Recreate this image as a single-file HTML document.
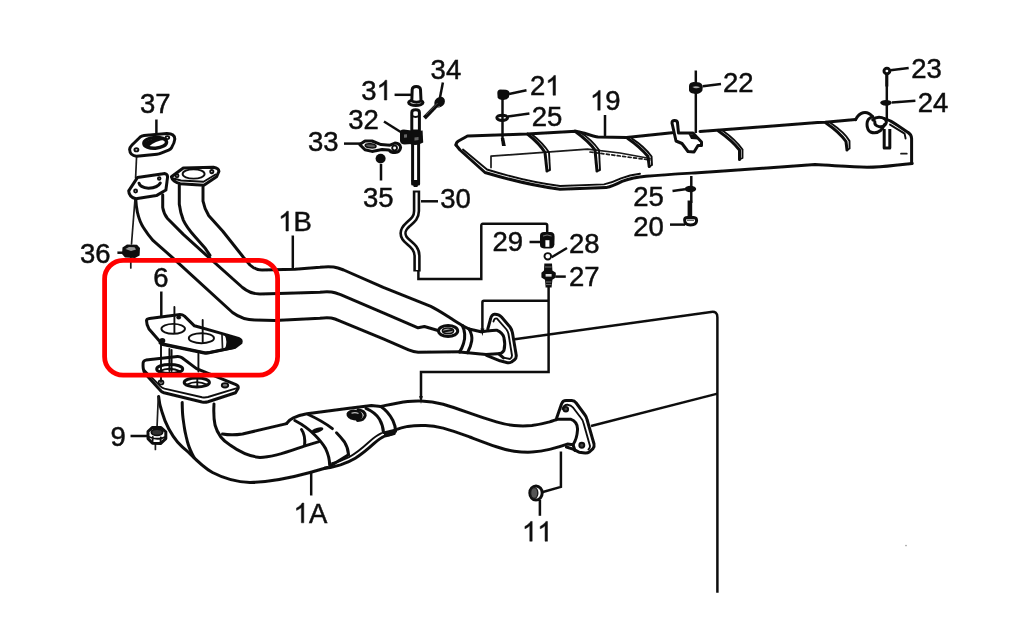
<!DOCTYPE html>
<html><head><meta charset="utf-8">
<style>
html,body{margin:0;padding:0;background:#fff;overflow:hidden}
svg{display:block}
text{font-family:"Liberation Sans",sans-serif;font-size:27.5px;fill:#111;stroke:#111;stroke-width:0.5px}
.p{fill:none;stroke:#111;stroke-width:3;stroke-linecap:round;stroke-linejoin:round}
.m{fill:none;stroke:#111;stroke-width:1.9;stroke-linecap:round;stroke-linejoin:round}
.t{fill:none;stroke:#1a1a1a;stroke-width:1.7;stroke-linecap:round;stroke-linejoin:round}
.l{fill:none;stroke:#111;stroke-width:2.5;stroke-linecap:butt}
.f{fill:#fff;stroke:#111;stroke-width:3;stroke-linejoin:round}
.d{fill:#111;stroke:none}
</style></head>
<body>
<svg width="1015" height="632" viewBox="0 0 1015 632">
<rect width="1015" height="632" fill="#fff"/>
<defs>
<filter id="bl" x="0" y="0" width="1015" height="632" filterUnits="userSpaceOnUse"><feGaussianBlur stdDeviation="0.55"/></filter>
<path id="one" stroke="#111" stroke-width="38" d="M759,0 L579,0 L579,-1147 Q514,-1085 408.5,-1023 Q303,-961 219,-930 L219,-1104 Q370,-1175 483,-1276 Q596,-1377 643,-1472 L759,-1472 Z"/>
</defs>
<g filter="url(#bl)">
<!-- ===== 1B PIPES ===== -->
<g id="pipe1b">
<path class="p" d="M135.8,199.6 C136,204 136.5,208 137.4,212.2 C139,219 141,224 143.7,228 C146.5,232.5 149.5,236.5 153.2,240.7 L172.2,257.3 L232.5,312.5 C240,318 247,320 255,320 L275,320.5 L320,318.3 C326,317.3 331,317.5 335,319 L339,320.7 L383.3,338.9 L408.6,349.9 C412,351.3 414.5,352.1 418.1,352.3 L460.8,351.8"/>
<path class="p" d="M162.7,194.8 L162.7,207.5 C163.5,212 165,215.5 167.5,218.5 L183.3,234.4 L200.7,250.2 L242.5,287.5 C248,292 253,294 260,294 L287.5,293.3 L320,292.2 C326,291.5 331,291.5 335,292.8 L340.6,294.6 L383.3,312.8 L418.1,327.8 L424.4,326.5 L437.1,330.2"/>
<path class="p" d="M179.3,185.3 L179.3,204.3 C180,210 181.3,215 183.3,220.1 C186,226 190,231 194.4,236 L205.4,248.6 L210,255.4"/>
<path class="p" d="M203,186.9 L203,201.1 C204,206.5 205.8,211 208.6,215.4 L222.8,231.2 L243.4,257.3 L250,265 C253,268 256.5,270 262,270 L295,269.3 L320,267.3 C327,266.5 333,266.5 338,268 L343.7,270 L383.3,287.4 L430.8,306.4 C440,311 447,316 454.5,320.7 L462.3,325.6"/>
</g>
<!-- ===== flanges top-left ===== -->
<g id="flangesTL">
<!-- thin line 37 -> flange -> 36 -->
<path class="t" d="M136.6,156 L135.6,178 M135,199 L131.5,244 M130.8,257 L130.8,268"/>
<!-- gasket 37 -->
<path class="f" d="M129.6,149.5 Q130,147 132,145 L140,137.2 Q141.6,135.8 144,135.5 L167,133.6 Q174.6,133.6 174.8,139 Q174.6,142.5 171.6,147.6 Q170.6,149.2 168.6,150.2 L160.4,153.4 Q159,154 157,154.2 L136.5,156.2 Q130,155.6 129.6,149.5 Z"/>
<ellipse cx="155.2" cy="142.8" rx="11.4" ry="5.4" fill="#fff" stroke="#111" stroke-width="3.4" transform="rotate(-4 155.2 142.8)"/>
<path d="M144.2,142.6 Q153,136 165.6,139.8 Q155,140.6 148.4,147 Q145,146 144.2,142.6 Z" class="d"/>
<ellipse cx="136.4" cy="149.8" rx="2" ry="1.6" class="m"/>
<ellipse cx="167.4" cy="137.6" rx="1.8" ry="1.5" class="m"/>
<!-- left flange -->
<path class="f" d="M128.7,190.9 L137.4,177.6 L165,173.6 Q168,174.5 167.5,177.6 L165.9,190 L156.4,195.6 L135.8,198.8 Q129,197 128.7,190.9 Z"/>
<path class="p" d="M139,183.2 Q140,187.5 148.5,188.3 Q158,187.5 160.3,183"/>
<circle cx="135.6" cy="191" r="1.5" class="m"/>
<circle cx="159.2" cy="178.4" r="1.3" class="m"/>
<!-- right flange -->
<path class="f" d="M171.4,176.8 L183.3,168 L213.4,167.2 Q218.8,168.2 218.9,171.3 L216.5,176.8 L203.9,185.3 L180.1,183.7 Q172.5,181.5 171.4,176.8 Z"/>
<path class="m" d="M173.5,178.5 L181,180.5 L203.5,181.8 L215.5,174.5"/>
<ellipse cx="193.6" cy="174" rx="11" ry="4.6" class="m" stroke-width="2.2"/>
<circle cx="177" cy="175.8" r="1.5" class="m"/>
<circle cx="211.8" cy="171.6" r="1.6" class="m"/>
<!-- nut 36 -->
<path class="d" d="M122.5,247.5 L127,244.5 L137,244.8 L140,248 L139.6,255.5 L135,258 L125,257.6 L122,254 Z"/>
<path d="M125.5,249 L129,247 L134.5,247.2 L136,249.5 L131,251 Z" fill="#999"/>
</g>
<path class="l" d="M156.4,119.5 V134"/>
<path class="l" d="M117.4,252.7 H123"/>
<path class="l" d="M161.3,291.5 V317.4"/>
<path class="l" d="M292.8,235.5 V268"/>
<!-- ===== lower flange + pipe 1A ===== -->
<g id="pipe1a">
<!-- outer-left line and bottom curve -->
<path class="p" d="M158.6,396.4 C159.2,403 160.5,408 162,412 C164,419 166.5,424.5 168.7,428.8 C171.5,434 174.5,438.5 177.5,442 C181,446 185,449.5 188.6,452.4 C197.5,461.5 204,468 212.5,472.5 C224,478.5 236,482 250,482.5 C272,482 292,477.5 310,472.5 L327.5,467.5"/>
<!-- second line (front pipe left edge) -->
<path class="p" d="M182.2,402.5 C182.3,411 182.6,415 183,418 C184,427 185.5,435 187.5,442 C188.8,447 191,452 194,457.5"/>
<!-- inner curve (front pipe right edge) -->
<path class="p" d="M214,404 C213.5,412 213.8,419 215,425 C217.5,434 222.5,440.5 230,445 C239,451.5 248,456.5 260,457.5 C275,457.3 290,451 304.2,446.1 L319,441.6"/>
<!-- upper pipe top line -->
<path class="p" d="M222.5,434 C229,435.2 236,435 242.5,434 L286.7,423.6"/>
<!-- lower flange -->
<path class="f" d="M143.1,363 Q143.3,360.6 146,360.1 L177.5,356.4 Q180,356.3 182,357.8 L196.5,368.6 L236,384.6 Q238.8,385.8 238.2,388.2 L235.5,392.8 L208,401.8 Q205,402.6 202,402 L164,392.8 Q161.5,392 160,390 L145,373.5 Q142.6,369.5 143.1,363 Z"/>
<path class="m" stroke-width="2.2" d="M144.2,370 L160.5,386.3 Q162,387.8 164.5,388.6 L202,397.2 Q205,397.8 208,397 L237,388.2"/>
<ellipse cx="169.7" cy="369" rx="13" ry="4.6" class="p" stroke-width="2.6"/>
<path class="m" d="M159.5,371.2 Q169.7,366.2 180.5,371.4"/>
<ellipse cx="196.8" cy="382.4" rx="12.6" ry="4.5" class="p" stroke-width="2.6"/>
<path class="m" d="M186.8,384.6 Q196.8,379.6 207.4,384.8"/>
<ellipse cx="225" cy="385.3" rx="3.2" ry="2.2" class="m" style="fill:#777"/>
<ellipse cx="161" cy="382.4" rx="2.4" ry="2" class="m"/>
<!-- studs through gasket -->
<path class="m" d="M161,344 V382 M169.4,349 V371 M171.6,350 V371 M198.4,353.5 V371.5 M197.3,379 V386"/>
<!-- line to nut 9 -->
<path class="t" d="M158.3,397 L157,428 M155.4,444 V449.4"/>
<!-- nut 9 -->
<path class="f" stroke-width="2.2" d="M148,431.5 L152.5,427.4 L161,427.6 L165.8,431.8 L165.8,438.6 L160.5,443.6 L152.5,443.2 L148,438.6 Z"/>
<ellipse cx="157" cy="432.2" rx="5.6" ry="3.2" fill="#333" stroke="#111" stroke-width="1.8"/>
<path class="m" d="M152.4,443 L152.8,437 M160.5,443.4 L160.8,437.4 M148.2,436.5 Q157,441 165.6,436.8"/>
</g>
<!-- gasket 6 -->
<g id="gasket6">
<path class="f" stroke-width="2.8" d="M146.5,320.5 Q146.8,318.8 149.5,318.4 L180,314.6 Q182.5,314.6 184.5,316.2 L194.4,325.8 L220.5,333.1 L238.5,338.5 Q242,340 241,342.8 L235,347.2 L208.5,352.6 Q206,353 203.5,352.4 L163,344 Q160.5,343 159,340.5 L149,329 Q146.5,325 146.5,320.5 Z"/>
<path class="p" stroke-width="3.8" d="M160,343 L163,344.6 L204,353 Q206.5,353.4 209,352.8 L234,347.6"/>
<path class="d" d="M224,333.8 L238.5,338.3 Q242.2,340 241,343 L235,347.6 L224.5,349.5 Q228.5,342 224,333.8 Z"/>
<path class="t" d="M222,335 L222.5,348"/>
<ellipse cx="173.2" cy="328.8" rx="11.8" ry="4.9" class="m" stroke-width="2.2"/>
<ellipse cx="201.4" cy="338.2" rx="12.6" ry="5" class="m" stroke-width="2.2"/>
<ellipse cx="178.7" cy="317.6" rx="2.4" ry="2" class="d"/>
<ellipse cx="162.3" cy="340.8" rx="3" ry="2.8" class="d"/>
<path class="m" d="M174.4,307 V333 M202.7,320 V342"/>
</g>

<!-- ===== catalytic converter ===== -->
<g id="cat">
<!-- top edge -->
<path class="p" d="M286.7,423.4 C288.5,420.5 290.5,419 293.4,417.8 C297.5,416 302,414.8 306.9,413.8 L347.2,408.4 L371.4,405.6 L380.8,406.4"/>
<!-- right band -->
<path class="p" stroke-width="2.4" d="M366,408.4 C372,411 376.5,414.5 379.5,419.2 C382,423.5 383.3,428 383.5,432.6"/>
<path class="p" d="M380.8,406.6 C386,410 390,415 392.9,420.5 C394.6,424 395.6,427.5 395.6,431.3"/>
<path class="d" d="M383.5,431.5 L395.8,428.5 Q397,432 394.5,434.5 Q390,436.8 384.5,437 Z"/>
<!-- bottom edge -->
<path class="p" stroke-width="3.6" d="M324.4,468.3 C330,467.8 335.5,466.5 340.5,464.9 C346,463 351,460.8 355.3,458.2 C362,454 368.5,448.5 374.1,443.4 C378,440 381.5,437.5 384.8,436 L394.2,433.6"/>
<path class="m" stroke-width="1.6" d="M332,463.2 C338,462 344,459.8 349,457.2 C356.5,453 363.5,447 369,442 C373.5,438 377.5,435 381.5,433.2"/>
<!-- left band -->
<path class="p" stroke-width="3.4" d="M294.8,420.5 C302.5,424.5 309.5,429.5 315,435.3 C319.5,439.8 323,444 325.7,448.8 C328.3,454 329.6,459.5 329.7,465.5"/>
<path class="p" stroke-width="2.2" d="M308.2,414.5 C316,418 325,423 332.4,428.6"/>
<path class="p" stroke-width="2.2" d="M336.5,432.8 C339.5,435.8 342,438.8 344.5,442 C347,446 348.2,450 348.5,454.5"/>
<path class="p" stroke-width="2.4" d="M348.5,454.8 L331.5,465.2"/>
<ellipse cx="317.4" cy="430.2" rx="6.2" ry="2.4" transform="rotate(-17 317.4 430.2)" class="d"/>
<!-- upper pipe rounded end inside -->
<path class="p" stroke-width="2.4" d="M301.5,429.5 C304,433 305.2,438.5 304.6,445.5"/>
<!-- bolt on cat -->
<ellipse cx="354.6" cy="415" rx="8.2" ry="5.4" transform="rotate(8 354.6 415)" class="d"/>
<path class="p" stroke-width="2.2" d="M358,409.8 Q365,410.8 365.2,415.5 Q364,420.5 357.5,420.6"/>
<path d="M351.5,413.3 Q355,411.8 358.5,413.4" stroke="#bbb" stroke-width="1.1" fill="none"/>
</g>
<path class="l" d="M130.5,436 H147.6"/>
<path class="l" d="M311.2,473 V495.5"/>
<!-- ===== pipe 1A right part + flange 2 ===== -->
<g id="pipe1aR">
<path class="p" d="M380.8,406.4 C390,404.5 399,402.5 407.7,401.5 C412,401 416.5,400.9 421,401 C428.5,401.2 436,402.3 443.2,404.2 C452,406.8 461,410 469.8,413.1 C478.5,416.2 487.5,419.2 496.4,421.9 C502,423.6 508,425 514.1,425.5 C520,426 526,426 531.9,425.5 C538,424.8 544,423.5 549.6,421.9 C553,420.8 555.5,419.8 557.5,419.2 L570.5,419.2 C575.5,421 577.8,425 577.5,430 C577.2,436 575.5,441 573,444.8"/>
<path class="p" d="M395.3,429.9 C399.5,428.3 403.5,427.2 407.7,426.4 C413.5,425.5 419.5,425.3 425.5,425.5 C431.5,425.8 437.5,426.8 443.2,428.1 C452,430.5 461,433.8 469.8,437 C478.5,440.3 487.5,443.8 496.4,446.7 C502,448.6 508,450.3 514.1,451.2 C520,452 526,452.4 531.9,452.1 C538,451.8 544,450.8 549.6,449.4 C556,447.8 562,446 567.3,444.1 L573,444.8"/>
<!-- flange 2 -->
<path class="p" d="M556.5,418.4 L561.5,404 Q562.8,400.6 566,400.6 L571.8,400.6 Q574.4,400.8 576.2,403 L585,415 Q586.5,417 587,419.5 L594,444 Q594.6,446.6 593,448.6 L589.4,452 Q587.4,453.2 585.2,453 L579,452.2 L573,449.2 L566.4,447"/>
<path class="m" d="M562.4,409 Q564,404.6 567.5,404.8 Q571,405 573,407.5 L581,418 Q583,420.5 583.5,423 L590,446 Q590,448 588.5,449.5"/>
<path class="p" d="M573,444.8 L575,450.4"/>
<circle cx="565.8" cy="409.2" r="2.3" class="m" style="fill:#444"/>
<circle cx="581.8" cy="445.3" r="2.5" class="m" style="fill:#444"/>
<!-- leader to nut 11 -->
<path class="l" d="M560.9,451.4 V486.9 L542,492.2"/>
<!-- nut 11 -->
<ellipse cx="536" cy="493" rx="6.2" ry="7" class="f" stroke-width="2.2"/>
<ellipse cx="534.2" cy="493" rx="3.6" ry="5.4" fill="#555" stroke="#1a1a1a" stroke-width="1.4"/>
</g>
<path class="l" d="M539.9,500 V515.8"/>
<!-- ===== 1B end joint + flange 1 ===== -->
<g id="end1b">
<!-- joint bands -->
<path class="p" d="M462.3,325.6 C465,331 465.3,338 463.5,343.5 C462.5,347 461,349.8 459.6,351.8"/>
<path class="p" d="M469,329 C471.5,333 472.3,337 471.7,341 C471,345.5 469.5,349 467.6,352.5"/>
<path class="p" d="M462.3,325.6 L469,329"/>
<path class="p" d="M459.6,352.1 L467.6,352.8"/>
<!-- pipe stub into flange -->
<path class="p" d="M469,329 L481,331.8 C486,331.5 492,330 497.2,330.3 C501,332 503.2,334.5 503.9,337.5 C505,342 505,346.5 503.9,350.5 C502.5,353 500,354 497.2,353.8 L486,354.5 L467.6,352.8"/>
<!-- flange 1 -->
<path class="p" d="M487.8,329 L490.5,319 Q491.5,314.5 494.5,314.2 Q498.5,314 501.5,317 L510,327 Q511.8,329.5 512.4,332.5 L516.2,355 Q516.6,358 514.5,359.8 L511.5,362 Q509.5,363 507.5,362.7 L500,360.8 L486.5,355.4"/>
<path class="m" d="M493.5,321.5 Q494.6,317.6 497,318.6 L506.5,329.5 Q508,331.5 508.5,334 L512,355.5 Q512,358 510,359 L503.5,357.6"/>
<path class="p" d="M499,354 L503.5,357.8"/>
<!-- bolt on pipe -->
<ellipse cx="448.1" cy="331" rx="9.6" ry="5.4" class="f" stroke-width="2.4"/>
<ellipse cx="448" cy="330.8" rx="5.6" ry="2.8" fill="#aaa" stroke="#111" stroke-width="1.6"/>
<path class="m" d="M444,331.5 L452,330"/>
<path class="m" d="M438.6,330.4 L437.1,330.2"/>
<!-- small arrow dot -->
<path class="d" d="M480.4,328.5 L484.4,328.5 L482.4,336 Z"/>
</g>

<!-- ===== long lines ===== -->
<g id="longlines">
<path class="l" d="M514.7,339.3 L711,311.9 Q717.4,311 717.4,317.2 V592.8" stroke-width="2.8"/>
<circle cx="906" cy="545.6" r="0.8" fill="#999"/>
<path class="l" d="M591,426 L717.5,393.6" stroke-width="2.6"/>
<!-- from 27 down -->
<path class="l" d="M548.6,286 V372 H421 V398" stroke-width="2.2"/>
<path class="d" d="M419.2,396 L422.8,396 L421,404 Z"/>
<path class="l" d="M548.6,300.8 H484 Q482.4,300.8 482.4,302.4 V330" stroke-width="2.2"/>
<!-- tube 30 bracket to 29 -->
<path class="l" d="M418.4,271 V279 H481.3 V225.6 Q481.2,223.8 483,223.8 H545.4 Q547.2,223.8 547.2,225.6 V233" stroke-width="2.4"/>
</g>
<!-- ===== tube assembly 30-35 ===== -->
<g id="tube">
<!-- cap 31 -->
<ellipse cx="415.8" cy="102.6" rx="7.2" ry="2.9" class="f" stroke-width="2.4"/>
<path class="f" stroke-width="2.4" d="M411.8,101 L412.2,89.5 Q412.4,86.4 416.2,86.4 Q420.3,86.4 420.5,89.5 L421,101 Q416.5,103.3 411.8,101 Z"/>
<!-- upper tube -->
<path class="f" stroke-width="3" d="M411.8,112.5 Q411.8,109.8 415.6,109.8 Q419.4,109.8 419.4,112.5 L419.4,131 L411.8,131 Z"/>
<path class="m" stroke-width="2.2" d="M411.8,115.5 Q415.6,118.6 419.4,115.5"/>
<!-- lower tube -->
<path class="f" stroke-width="2.8" d="M412.6,143 L412.6,184 L418.6,184 L418.6,143 Z"/>
<path class="d" d="M411.2,180 L420,180 L417.4,187 L413.8,187 Z"/>
<!-- clamp 32 -->
<path class="d" d="M400,132.5 Q400,129.5 403.5,129.5 L412,130.5 L412,144 L404,144.5 Q400,144 400,140.5 Z"/>
<path class="d" d="M410.5,132 L422.6,130.5 L423.2,142.5 Q417.5,146.2 410.5,144.2 Z"/>
<path d="M404,134.5 L407,134.3 L407,137.5 L404,137.8 Z M414.5,137.5 L418.5,137 L418.5,140 L414.5,140.4 Z" fill="#666"/>
<!-- bracket 33 -->
<path class="f" stroke-width="2.2" d="M359.8,144.6 L365,141 L372,141 L381,144.6 L390,145.2 L395,143 Q400,143.2 400.6,147.5 Q400,152 395,152.6 Q391,152.6 389,150 L382,149.6 L372,151.4 L365,149.8 Z"/>
<ellipse cx="370.6" cy="145.8" rx="5.4" ry="2" transform="rotate(6 370.6 145.8)" fill="#555" stroke="#111" stroke-width="1.6"/>
<ellipse cx="394.6" cy="148" rx="2.4" ry="2.4" class="m"/>
<!-- bolt 35 -->
<ellipse cx="380.6" cy="158.6" rx="5" ry="4.9" class="d"/>
<!-- bolt 34 -->
<ellipse cx="439.6" cy="102.2" rx="5.8" ry="4.8" transform="rotate(-45 439.6 102.2)" class="d"/>
<path d="M436.4,105.6 L424.4,118" stroke="#111" stroke-width="4" stroke-linecap="butt" fill="none"/>
<path d="M437,103.6 L425.6,115.2 M439.4,106.2 L428,118.2" stroke="#fff" stroke-width="0.7" stroke-dasharray="1.1 1.7" fill="none"/>
<!-- tube 30 -->
<path d="M416.5,190.6 L416.5,211 C416.5,218 412,221 408,224.5 C403,229 401.5,233 404.5,238 C407.5,243 417,246 417,256 L417,271.5" fill="none" stroke="#111" stroke-width="7.4" stroke-linecap="butt" stroke-linejoin="round"/>
<path d="M416.5,192.6 L416.5,211 C416.5,218 412,221 408,224.5 C403,229 401.5,233 404.5,238 C407.5,243 417,246 417,256 L417,270" fill="none" stroke="#fff" stroke-width="2.2" stroke-linecap="butt" stroke-linejoin="round"/>
</g>
<path class="l" d="M394.6,94.8 H411.6"/>
<path class="l" d="M384,121.5 L401.5,132.5"/>
<path class="l" d="M344,143.6 H361"/>
<path class="l" d="M442.9,82.6 L439.8,98.5"/>
<path class="l" d="M381,164 V180.5"/>
<path class="l" d="M421,201.3 H438"/>
<!-- ===== 27, 28, 29 ===== -->
<g id="sensor">
<!-- 29 cap -->
<path class="d" d="M540,235.5 Q540,232.2 544,232 L550.5,232 Q554.6,232.2 554.6,236.5 L554.4,244.5 Q554,248.4 550,248.4 L544,248.4 Q540,248.2 540,245 Z"/>
<path d="M545.4,240.2 L549.4,240.2 L549.4,246.8 L545.4,246.8 Z" fill="#fff"/>
<path d="M543,236 Q547,234 551.5,236" stroke="#777" stroke-width="1" fill="none"/>
<!-- 28 ring -->
<ellipse cx="547.8" cy="256.3" rx="3.3" ry="3.2" class="m" stroke-width="2.4"/>
<!-- 27 sensor -->
<path class="d" d="M544.3,263.4 L552,263.4 L552.4,270.6 L555.8,272.8 L555.8,277.4 L552.4,279.8 L551.6,287.6 L545.6,287.6 L545,279.8 L541.4,277.4 L541.4,272.8 L544,270.6 Z"/>
<path d="M545.6,274 L551.6,274 L551.6,276.6 L545.6,276.6 Z" fill="#ddd"/>
<path d="M545,267 H551.6 M546,282 H551.4 M546,284.6 H551.4" stroke="#888" stroke-width="0.8"/>
</g>
<path class="l" d="M529.5,242 H540"/>
<path class="l" d="M551.6,257.2 L567,248"/>
<path class="l" d="M555.6,276.6 H565.8"/>

<!-- ===== heat shield 19 ===== -->
<g id="shield">
<!-- outline -->
<path class="p" d="M456,145 Q456,142.5 458.5,141 L467.5,136 L527,134 L575.8,131.2 C584,132.4 592,136.2 598,137 L626.5,137.6 L672,132.8"/>
<path class="p" stroke-width="2.6" d="M700,131.5 L817.5,122.5 L825.2,122.2 L855.6,119.6"/>
<path class="p" stroke-width="3" d="M456,145 L460,150 L485,172.5 C510,180 535,186 560,189.2 L606,187.6 C612,186.4 617,184 622,181.4 C630,178.4 638,176.8 646,176.2 C662,174.8 680,173.8 694,173 L720,171.3 L815,164.6 C835,165.6 852,166.8 867,167.2 C877,167.2 887,166.2 895.4,165.2 L912.2,163.4"/>
<path class="m" d="M463,149.5 L487,169.5 C511,177 536,183 560,186 L604,184.4 C611,183 616,180.8 621,178.4 C627,176 633,174.6 640,173.8"/>
<!-- inner rectangle -->
<path class="t" d="M491,167.5 V156.2 L587.5,149.2 L620,153 L650,158.5"/>
<path class="t" stroke-dasharray="3 2.5" d="M590,152 L650,160"/>
<!-- ribs -->
<path class="p" stroke-width="2.4" d="M527.5,134 C535,140 541,146 545,152.5 L547,171"/>
<path class="m" d="M531.5,134 C539,140 545,146 549,152.5 L550,170 L547,171"/>
<path class="p" stroke-width="2.4" d="M575,131.2 C583,137 590,143 595,150 L597,171"/>
<path class="m" d="M579.5,131.8 C587.5,137 594,143 599,150 L600,170 L597,171"/>
<path class="p" stroke-width="2.4" d="M627.8,138.6 C635,143.5 642,149.5 648,156.5 L649.2,166.6"/>
<path class="m" d="M632,138.6 C639.5,143.5 646.5,149.5 651.6,156.5 L652,165 L649.2,166.6"/>
<path class="p" stroke-width="2.2" d="M718.5,131 C727,137 734.5,143.5 739.5,150 L739.5,159.5"/>
<path class="m" d="M722.5,130.5 C731,136.5 738,143 742.5,149.5 L742.5,158 L739.5,159.5"/>
<path class="p" stroke-width="2.2" d="M826,123 C834,128.5 841.5,135 846,141.5 L847,150"/>
<path class="m" d="M830,122.5 C838,128 846,134.5 849.5,141 L849.6,148.5 L847,150"/>
<!-- bracket at 22 -->
<path class="f" stroke-width="2.2" d="M672,123 Q672,120.5 674.5,120.5 Q677.5,120.5 677.5,123 L678.5,133 L693,133 L701.5,142 L701.5,145.5 L698,145.5 L694,152 L688,151.5 L682,143.5 L676,141 Z"/>
<path class="d" d="M688.5,134 L695.5,134.5 L697.5,139.5 L691,139 Z"/>
<!-- clip at right end -->
<path class="p" stroke-width="3.8" d="M855.6,119.6 C857.5,116 860,113.6 863,112.8 C866.5,112 870,113.5 872.7,116.7"/>
<path class="p" stroke-width="2.6" d="M872.7,116.7 C869,118 867,121 867,124 C867,127.5 868,130.5 870.5,132 C874,133.5 878,132.5 880.5,130.5 C882.5,128.8 883.5,127 884.5,124.5"/>
<path class="p" stroke-width="2.4" d="M872.7,119.8 C875,117.6 879,116.8 882,117.6 C885.5,118.6 887,121 886,123.5 C885,126 882,127.2 879,126.6 C876,126 874.5,124 874.8,121.5"/>
<path class="p" stroke-width="2.6" d="M884.5,118.6 C889,119.8 893,122 897,125 L908,132.4 Q911.4,134.5 911.6,138.5 L911.6,163.4"/>
<path class="m" d="M890,124.6 L904.6,133.6 L905.6,138.5"/>
<!-- stud -->
<path class="f" stroke-width="1.8" d="M884.2,129 V148 H889.8 V129"/>
<path class="t" d="M901,153.7 H906.8"/>
</g>
<!-- bolts on shield -->
<g id="bolts">
<!-- 21 -->
<path class="l" d="M502.5,99 V141" stroke-width="2.8"/>
<path class="d" d="M497.3,93 Q497.3,90 500.5,89.6 L506,89.8 Q509.6,90.4 509.6,93.6 L508.8,97.6 Q507,100.2 503,100 Q498.5,99.8 497.6,97.4 Z"/>
<path class="d" d="M500.8,138 L504.2,138 L505.8,146 L502,146 Z"/>
<!-- 25 washer -->
<ellipse cx="502.2" cy="117.8" rx="5.4" ry="2.6" class="f" stroke-width="2.4"/>
<path class="l" d="M502.5,115 V121" stroke-width="2.8"/>
<!-- 22 -->
<path class="l" d="M695.8,70.5 V133" stroke-width="2.2"/>
<path class="d" d="M689,86 Q689,82.4 693.5,82 L698,82.2 Q702.6,83 702.8,87 L702.4,90.6 Q700.5,94.2 695.5,94 Q690,93.8 689,90.6 Z"/>
<path d="M692.5,87 Q696,85.4 700,87.2 Q696,89.4 692.5,87 Z" fill="#aaa"/>
<!-- 25 lower + 20 -->
<path class="l" d="M691.3,176 V203" stroke-width="2.2"/>
<ellipse cx="690.4" cy="189" rx="5.8" ry="3.3" class="d"/>
<path d="M689.9,200.5 V218" stroke="#111" stroke-width="4.6" fill="none"/>
<path class="f" stroke-width="2.2" d="M684.6,220 Q684.6,217.6 687.4,217.6 L693.8,217.6 Q696.6,217.8 696.6,220.8 Q696.4,225 690.6,225 Q684.6,225 684.6,220 Z"/>
<path d="M687,220.2 H694" stroke="#555" stroke-width="1.4"/>
<!-- 23 + 24 -->
<path class="l" d="M886.8,73 V119" stroke-width="2"/>
<path d="M886.8,74 V86.5" stroke="#111" stroke-width="3" fill="none"/>
<ellipse cx="886.9" cy="71" rx="2.9" ry="2.8" class="f" stroke-width="1.8"/>
<ellipse cx="886" cy="102.8" rx="5.8" ry="2.9" class="d"/>
</g>
<path class="l" d="M509,94 L526.5,90.2"/>
<path class="l" d="M508,116.4 L529.4,113.6"/>
<path class="l" d="M605,115 V137"/>
<path class="l" d="M702.8,86.2 L721,84"/>
<path class="l" d="M890.4,70.3 L908.7,67.9"/>
<path class="l" d="M892,102.6 L915.4,100.7"/>
<path class="l" d="M672.5,191 L685,189.2"/>
<path class="l" d="M670,224.6 H685"/>
<!--LABELS-->
<text x="140.00" y="112.6">3</text><text x="155.29" y="112.6">7</text>
<text x="80.00" y="262.9">3</text><text x="95.29" y="262.9">6</text>
<text x="153.20" y="287.4">6</text>
<use href="#one" transform="translate(278.20,231.0) scale(0.013428)" fill="#111"/><text x="293.49" y="231.0">B</text>
<text x="361.30" y="100.0">3</text><use href="#one" transform="translate(376.59,100.0) scale(0.013428)" fill="#111"/>
<text x="348.30" y="128.9">3</text><text x="363.59" y="128.9">2</text>
<text x="307.90" y="151.0">3</text><text x="323.19" y="151.0">3</text>
<text x="430.60" y="78.9">3</text><text x="445.89" y="78.9">4</text>
<text x="362.90" y="207.0">3</text><text x="378.19" y="207.0">5</text>
<text x="440.30" y="208.2">3</text><text x="455.59" y="208.2">0</text>
<text x="530.00" y="95.2">2</text><use href="#one" transform="translate(545.29,95.2) scale(0.013428)" fill="#111"/>
<text x="531.80" y="126.0">2</text><text x="547.09" y="126.0">5</text>
<use href="#one" transform="translate(590.00,110.2) scale(0.013428)" fill="#111"/><text x="605.29" y="110.2">9</text>
<text x="723.00" y="91.6">2</text><text x="738.29" y="91.6">2</text>
<text x="911.20" y="78.4">2</text><text x="926.49" y="78.4">3</text>
<text x="917.80" y="112.0">2</text><text x="933.09" y="112.0">4</text>
<text x="633.20" y="205.9">2</text><text x="648.49" y="205.9">5</text>
<text x="633.20" y="236.3">2</text><text x="648.49" y="236.3">0</text>
<text x="492.50" y="251.3">2</text><text x="507.79" y="251.3">9</text>
<text x="568.90" y="252.6">2</text><text x="584.19" y="252.6">8</text>
<text x="569.00" y="286.3">2</text><text x="584.29" y="286.3">7</text>
<text x="110.40" y="446.0">9</text>
<use href="#one" transform="translate(293.60,522.8) scale(0.013428)" fill="#111"/><text x="308.89" y="522.8">A</text>
<use href="#one" transform="translate(522.00,541.2) scale(0.013428)" fill="#111"/><use href="#one" transform="translate(537.29,541.2) scale(0.013428)" fill="#111"/>
<!--/LABELS-->
</g>
<!-- red highlight -->
<rect x="104.6" y="260.4" width="173" height="114.8" rx="18.5" ry="18.5" fill="none" stroke="#fe0000" stroke-width="4.8"/>
</svg>
</body></html>
